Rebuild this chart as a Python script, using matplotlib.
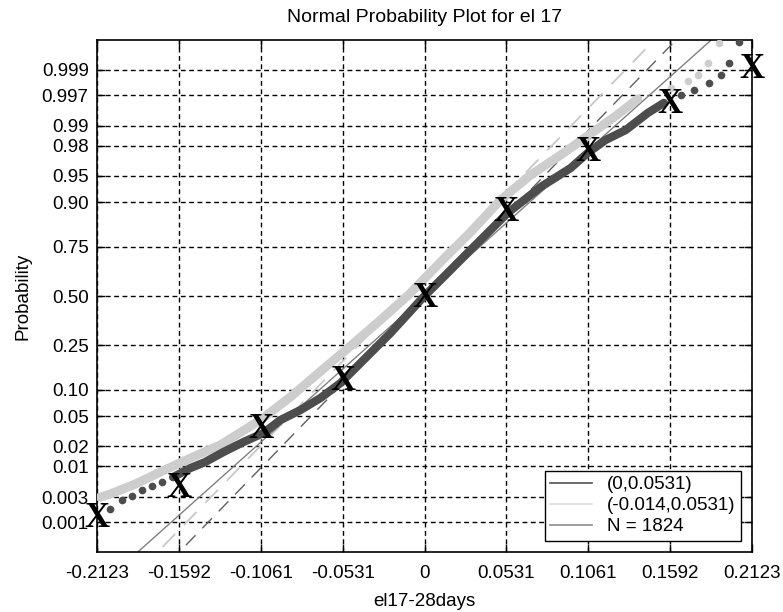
import numpy as np
import matplotlib
matplotlib.use('Agg')
import matplotlib.pyplot as plt
from matplotlib.lines import Line2D
from statistics import NormalDist

# values
dark_x = [-0.1630, -0.1519, -0.1422, -0.1305, -0.1175, -0.1045, -0.0935, -0.0805,
          -0.0675, -0.0545, -0.0383, -0.0221, -0.0007, 0.0169, 0.0279, 0.0539,
          0.0753, 0.0948, 0.1058, 0.1175, 0.1305, 0.1448, 0.1552]
dark_p = [0.00664, 0.0093, 0.0116, 0.0164, 0.0229, 0.0305, 0.0449, 0.0594,
          0.0815, 0.117, 0.198, 0.306, 0.4945, 0.639, 0.722, 0.872,
          0.932, 0.960, 0.9748, 0.9836, 0.9884, 0.99385, 0.99586]
dark_tail_x = [-0.2039, -0.1961, -0.1896, -0.1831, -0.1766, -0.1701,
               0.1662, 0.1746, 0.1844, 0.1921, 0.1973, 0.2039]
dark_tail_p = [0.00178, 0.00263, 0.00311, 0.00398, 0.00467, 0.00548,
               0.99702, 0.99758, 0.99822, 0.99875, 0.99928, 0.99974]

light_x = [-0.2104, -0.2039, -0.1974, -0.1876, -0.1714, -0.1519, -0.1324, -0.1065,
           -0.0870, -0.0695, -0.0480, -0.0286, -0.0104, 0.0104, 0.0299, 0.0493,
           0.0688, 0.0883, 0.1058, 0.1240, 0.1383]
light_p = [0.00298, 0.00338, 0.00398, 0.00506, 0.00803, 0.0133, 0.0208, 0.0449,
           0.0835, 0.143, 0.247, 0.371, 0.5055, 0.679, 0.809, 0.9054,
           0.951, 0.9731, 0.9857, 0.99310, 0.99648]
light_tail_x = [0.1597, 0.1707, 0.1772, 0.1837, 0.1908]
light_tail_p = [0.99778, 0.99836, 0.99875, 0.99928, 0.99973]

# the big X markers at the tick positions
xmark_x = [-0.2123, -0.1592, -0.1061, -0.0531, 0, 0.0531, 0.1061, 0.1592, 0.2123]
xmark_p = [0.0012, 0.0043, 0.0335, 0.12, 0.489, 0.872, 0.975, 0.9955, 0.999]

# reference lines (mean, sd)
line_mu = [0.0, 0.002, -0.012]
line_sd = [0.0531, 0.046, 0.046]

legend_labels = ['(0,0.0531)', '(-0.014,0.0531)', 'N = 1824']

xticks = [-0.2123, -0.1592, -0.1061, -0.0531, 0, 0.0531, 0.1061, 0.1592, 0.2123]
xtick_labels = ['-0.2123', '-0.1592', '-0.1061', '-0.0531', '0', '0.0531', '0.1061', '0.1592', '0.2123']
yticks = [0.001, 0.003, 0.01, 0.02, 0.05, 0.10, 0.25, 0.50, 0.75, 0.90, 0.95, 0.98, 0.99, 0.997, 0.999]
ytick_labels = ['0.001', '0.003', '0.01', '0.02', '0.05', '0.10', '0.25', '0.50', '0.75',
                '0.90', '0.95', '0.98', '0.99', '0.997', '0.999']

nd = NormalDist()
_ppf = np.vectorize(nd.inv_cdf, otypes=[float])
_cdf = np.vectorize(nd.cdf, otypes=[float])


def fwd(p):
    p = np.clip(np.asarray(p, dtype=float), 1e-12, 1 - 1e-12)
    return _ppf(p)


def inv(z):
    return _cdf(np.asarray(z, dtype=float))


plt.rcParams['font.family'] = 'Liberation Sans'
fig = plt.figure(figsize=(7.83, 6.12), dpi=100)
ax = fig.add_axes([0.1239, 0.098, 0.8365, 0.8366])
ax.set_yscale('function', functions=(fwd, inv))

# fitted / reference lines
xe = np.array([-0.2123, 0.2123])
ax.plot(xe, inv((xe - line_mu[2]) / line_sd[2]), color='#c8c8c8', lw=1.3,
        dashes=(10, 7), zorder=2)
ax.plot(xe, inv((xe - line_mu[1]) / line_sd[1]), color='#606060', lw=1.0,
        dashes=(10, 7), zorder=2)
ax.plot(xe, inv((xe - line_mu[0]) / line_sd[0]), color='#808080', lw=1.0, zorder=2)

# data
ax.plot(light_x, light_p, color='#cdcdcd', lw=6.5, solid_capstyle='round',
        solid_joinstyle='round', zorder=3)
ax.plot(light_tail_x, light_tail_p, 'o', color='#cdcdcd', ms=4.5, zorder=3)
ax.plot(dark_x, dark_p, color='#4d4d4d', lw=6, solid_capstyle='round',
        solid_joinstyle='round', zorder=4)
ax.plot(dark_tail_x, dark_tail_p, 'o', color='#4d4d4d', ms=4.5, zorder=4)

for xm, pm in zip(xmark_x, xmark_p):
    ax.text(xm, pm, 'X', ha='center', va='center', family='Liberation Serif',
            weight='bold', fontsize=25, color='black', zorder=6, clip_on=False)

ax.set_xlim(-0.2123, 0.2123)
ax.set_ylim(nd.cdf(-3.5), nd.cdf(3.5))
ax.set_xticks(xticks)
ax.set_xticklabels(xtick_labels)
ax.set_yticks(yticks)
ax.set_yticklabels(ytick_labels)
ax.minorticks_off()
ax.tick_params(direction='in', length=6, width=1, top=True, right=True,
               labelsize=13.5, colors='black')
ax.tick_params(axis='x', pad=9)
ax.tick_params(axis='y', pad=6)
ax.grid(True, color='black', linestyle=(0, (3.5, 2.5)), lw=1.0)
for s in ax.spines.values():
    s.set_linewidth(1.2)

ax.set_title('Normal Probability Plot for el 17', fontsize=14, pad=13)
ax.set_xlabel('el17-28days', fontsize=13.5, labelpad=8)
ax.set_ylabel('Probability', fontsize=13.5, labelpad=7)

handles = [Line2D([], [], color='#505050', lw=1.2),
           Line2D([], [], color='#dddddd', lw=1.2),
           Line2D([], [], color='#8a8a8a', lw=1.2)]
leg = ax.legend(handles, legend_labels, loc='lower right', fontsize=13.5,
                fancybox=False, framealpha=1, edgecolor='black',
                handlelength=2.2, labelspacing=0.2, borderpad=0.3,
                borderaxespad=0.6)
leg.get_frame().set_linewidth(1.0)
leg.set_zorder(10)

plt.savefig('out.png', dpi=100)
